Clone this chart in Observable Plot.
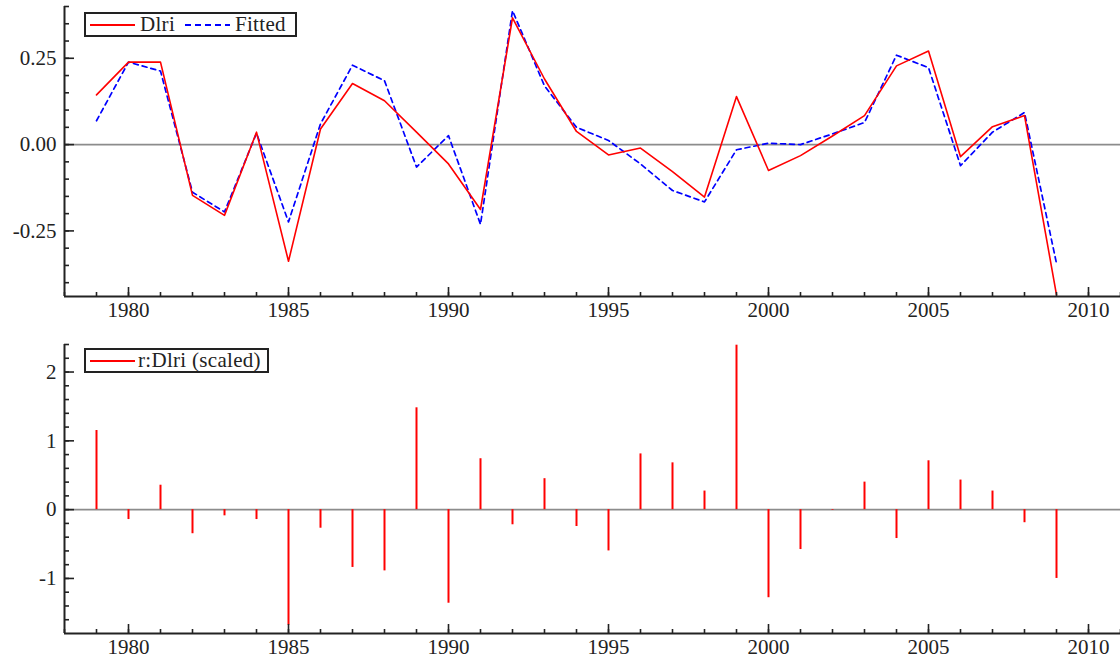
<!DOCTYPE html>
<html><head><meta charset="utf-8">
<script src="https://cdn.jsdelivr.net/npm/d3@7"></script>
<script src="https://cdn.jsdelivr.net/npm/@observablehq/plot@0.6"></script>
<style>
body{margin:0;background:#fff;}
#wrap{position:relative;width:1120px;height:661px;overflow:hidden;}
#wrap svg.plot{display:block;}
.legend{position:absolute;border:2px solid #222;background:#fff;box-sizing:border-box;font-family:"Liberation Serif",serif;font-size:21px;letter-spacing:0.3px;color:#222;}
.legend span{position:absolute;top:50%;transform:translateY(-52%);white-space:nowrap;line-height:1;}
.legend svg{position:absolute;top:50%;transform:translateY(-50%);}
</style></head>
<body><div id="wrap"></div>
<script>
const years = [1979,1980,1981,1982,1983,1984,1985,1986,1987,1988,1989,1990,1991,1992,1993,1994,1995,1996,1997,1998,1999,2000,2001,2002,2003,2004,2005,2006,2007,2008,2009];
const dlri = [0.144,0.239,0.239,-0.147,-0.205,0.036,-0.338,0.045,0.177,0.127,0.036,-0.056,-0.188,0.367,0.19,0.038,-0.030,-0.010,-0.078,-0.152,0.139,-0.075,-0.032,0.025,0.084,0.228,0.271,-0.035,0.052,0.084,-0.435];
const fitted = [0.069,0.239,0.213,-0.138,-0.195,0.033,-0.224,0.06,0.23,0.185,-0.065,0.026,-0.231,0.388,0.17,0.05,0.012,-0.056,-0.133,-0.166,-0.015,0.004,0.0,0.031,0.064,0.259,0.223,-0.061,0.036,0.093,-0.344];
const resid = [1.15,-0.144,0.355,-0.35,-0.09,-0.144,-1.68,-0.27,-0.84,-0.89,1.48,-1.36,0.74,-0.22,0.45,-0.245,-0.60,0.81,0.68,0.27,2.39,-1.28,-0.58,-0.01,0.40,-0.42,0.71,0.43,0.27,-0.19,-1.0];

const xMajor = [1980,1985,1990,1995,2000,2005,2010];
const xMinor = [1978,1979,1980,1981,1982,1983,1984,1985,1986,1987,1988,1989,1990,1991,1992,1993,1994,1995,1996,1997,1998,1999,2000,2001,2002,2003,2004,2005,2006,2007,2008,2009,2010,2011];
const yTopMajor = [-0.25,0,0.25];
const yTopMinor = [-0.40,-0.35,-0.30,-0.25,-0.20,-0.15,-0.10,-0.05,0,0.05,0.10,0.15,0.20,0.25,0.30,0.35,0.40];
const yBotMajor = [-1,0,1,2];
const yBotMinor = [-1.6,-1.4,-1.2,-1,-0.8,-0.6,-0.4,-0.2,0,0.2,0.4,0.6,0.8,1,1.2,1.4,1.6,1.8,2,2.2,2.4];

const table = years.map((year,i)=>({year, dlri: dlri[i], fitted: fitted[i], resid: resid[i]}));

const ink = "#222";
const xDomain = [1978, 2011];

function panel({height, marginTop, marginBottom, yDomain, yMajor, yMinor, yFormat, marks}) {
  return Plot.plot({
    width: 1120, height, marginLeft: 64, marginRight: 0, marginTop, marginBottom,
    style: {fontFamily: "Liberation Serif", fontSize: "21px", color: ink, background: "white"},
    x: {domain: xDomain},
    y: {domain: yDomain},
    marks: [
      Plot.ruleY([0], {stroke: "#8c8c8c", strokeWidth: 1.6}),
      ...marks,
      Plot.ruleX([xDomain[0]], {stroke: ink, strokeWidth: 2}),
      Plot.ruleY([yDomain[0]], {stroke: ink, strokeWidth: 2}),
      Plot.axisX({ticks: xMinor, tickSize: -4, tickFormat: () => "", label: null, stroke: ink, strokeWidth: 1.6}),
      Plot.axisX({ticks: xMajor, tickSize: -9, tickFormat: () => "", label: null, stroke: ink, strokeWidth: 1.6}),
      Plot.axisX({ticks: xMajor, tickSize: 0, tickPadding: 6, tickFormat: d => String(d), label: null, fill: ink}),
      Plot.axisY({ticks: yMinor, tickSize: -5, tickFormat: () => "", label: null, stroke: ink, strokeWidth: 1.6}),
      Plot.axisY({ticks: yMajor, tickSize: -10, tickFormat: () => "", label: null, stroke: ink, strokeWidth: 1.6}),
      Plot.axisY({ticks: yMajor, tickSize: 0, tickPadding: 8, tickFormat: yFormat, label: null, fill: ink})
    ]
  });
}

const topPanel = panel({
  height: 330, marginTop: 6, marginBottom: 34,
  yDomain: [-0.44, 0.40], yMajor: yTopMajor, yMinor: yTopMinor,
  yFormat: d => d.toFixed(2),
  marks: [
    Plot.line(table, {x: "year", y: "fitted", stroke: "#0000ff", strokeWidth: 1.7, strokeDasharray: "5,4"}),
    Plot.line(table, {x: "year", y: "dlri", stroke: "#ff0000", strokeWidth: 1.6})
  ]
});

const bottomPanel = panel({
  height: 331, marginTop: 14, marginBottom: 28,
  yDomain: [-1.8, 2.4], yMajor: yBotMajor, yMinor: yBotMinor,
  yFormat: d => String(d),
  marks: [
    Plot.ruleX(table, {x: "year", y1: 0, y2: "resid", stroke: "#ff0000", strokeWidth: 2})
  ]
});

const wrap = document.getElementById("wrap");
topPanel.classList.add("plot"); bottomPanel.classList.add("plot");
wrap.appendChild(topPanel);
wrap.appendChild(bottomPanel);

function sample(color, left, dash) {
  return `<svg width="45" height="4" style="left:${left}px"><line x1="0" y1="2" x2="45" y2="2" stroke="${color}" stroke-width="1.8"${dash ? ` stroke-dasharray="${dash}"` : ""}/></svg>`;
}
const lg1 = document.createElement("div");
lg1.className = "legend";
Object.assign(lg1.style, {left: "84px", top: "12px", width: "213px", height: "25px"});
lg1.innerHTML = sample("#ff0000", 4) + `<span style="left:54px">Dlri</span>` + sample("#0000ff", 99, "6,4") + `<span style="left:149px">Fitted</span>`;
wrap.appendChild(lg1);

const lg2 = document.createElement("div");
lg2.className = "legend";
Object.assign(lg2.style, {left: "84px", top: "348px", width: "185px", height: "25px"});
lg2.innerHTML = sample("#ff0000", 4) + `<span style="left:52px">r:Dlri (scaled)</span>`;
wrap.appendChild(lg2);
</script>
</body></html>
